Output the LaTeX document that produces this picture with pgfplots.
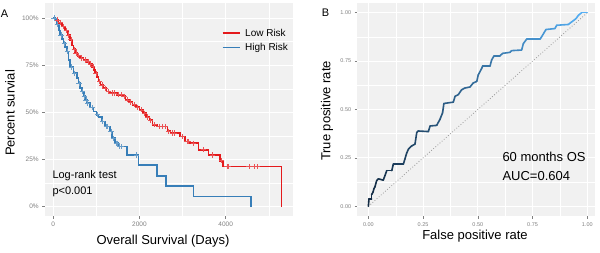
\documentclass[border=0pt]{standalone}
\usepackage{pgfplots}
\pgfplotsset{compat=1.18}
\usepackage{fontspec}
\setmainfont{Liberation Sans}
\definecolor{lowred}{HTML}{E41A1C}
\definecolor{highblue}{HTML}{377EB8}
\definecolor{panelbg}{HTML}{F1F1F1}
\definecolor{tickgray}{HTML}{808080}
\pgfplotsset{
  colormap={roc}{rgb255=(19,43,67) rgb255=(86,177,247)},
  ggstyle/.style={
    scale only axis, anchor=south west,
    axis background/.style={fill=panelbg},
    axis line style={draw=none},
    tick pos=left, tick align=outside,
    major tick length=2.75pt, minor tick length=0pt,
    tick style={tickgray, line width=0.5pt},
    grid=both,
    major grid style={white, line width=0.9pt},
    minor grid style={white, line width=0.45pt},
    ticklabel style={font=\fontsize{6.5}{7}\selectfont, text=tickgray},
    /pgf/number format/assume math mode=true,
    /pgf/number format/1000 sep={},
  }
}
\begin{document}
\begin{tikzpicture}[x=1pt,y=1pt]
\useasboundingbox (0,0) rectangle (600,253);
% ---------------- Panel A ----------------
\begin{axis}[ggstyle, at={(45pt,37pt)}, width=248pt, height=213pt,
  xmin=-190, xmax=5560, ymin=-0.05, ymax=1.08,
  xtick={0,2000,4000}, minor xtick={1000,3000,5000},
  ytick={0,0.25,0.5,0.75,1}, minor ytick={0.125,0.375,0.625,0.875},
  yticklabels={0\%,25\%,50\%,75\%,100\%}]
\addplot[const plot, lowred, line width=1.6pt] coordinates {
(0,1.0) (50,0.99) (124,0.975) (200,0.955) (278,0.935) (340,0.91) (394,0.885)
(432,0.855) (470,0.835) (510,0.815) (560,0.80) (625,0.788) (700,0.778) (780,0.768)
(840,0.755) (896,0.742) (940,0.725) (973,0.708) (1010,0.686) (1050,0.664) (1100,0.645)
(1166,0.628) (1240,0.61) (1320,0.602) (1475,0.593) (1620,0.585) (1680,0.566) (1760,0.555)
(1840,0.540) (1920,0.527) (2000,0.513) (2080,0.495) (2150,0.475) (2230,0.458) (2300,0.434)
(2400,0.425) (2650,0.400) (2720,0.390) (2940,0.372) (3060,0.345) (3175,0.336) (3370,0.301)
(3600,0.274) (3870,0.243) (3932,0.212) (5297,0)};
\addplot[const plot, highblue, line width=1.6pt] coordinates {
(0,1.0) (46,0.99) (86,0.965) (130,0.935) (162,0.91) (200,0.89) (239,0.867) (280,0.845)
(317,0.823) (355,0.779) (394,0.74) (471,0.708) (549,0.681) (587,0.655) (626,0.628)
(664,0.61) (710,0.585) (742,0.566) (780,0.549) (850,0.525) (934,0.504) (1000,0.487)
(1050,0.475) (1128,0.451) (1205,0.425) (1321,0.398) (1360,0.363) (1437,0.336) (1514,0.318)
(1707,0.274) (1977,0.221) (2403,0.163) (2619,0.11) (3252,0.053) (4589,0)};
% censoring marks
\addplot[only marks, mark=+, mark size=2.6pt, lowred!75!white, mark options={line width=0.7pt}] coordinates {
(30,1.0) (90,0.99) (160,0.975) (240,0.955) (300,0.935) (360,0.91) (410,0.885) (490,0.835)
(530,0.815) (590,0.80) (660,0.788) (740,0.778) (810,0.768) (870,0.755) (920,0.742) (990,0.708)
(1080,0.664) (1130,0.645) (1200,0.628) (1280,0.61) (1360,0.602) (1420,0.602) (1520,0.593)
(1580,0.593) (1650,0.585) (1720,0.566) (1800,0.555) (1880,0.540) (1960,0.527) (2040,0.513)
(2120,0.495) (2190,0.475) (2260,0.458) (2340,0.434) (2450,0.425) (2520,0.425) (2600,0.425)
(2680,0.40) (2760,0.39) (2800,0.39) (2990,0.372) (3100,0.345) (3140,0.345) (3250,0.336)
(3480,0.301) (3700,0.274) (3900,0.243) (4030,0.212) (4060,0.212) (4539,0.212) (4654,0.212) (4724,0.212)};
\addplot[only marks, mark=+, mark size=2.6pt, highblue!75!white, mark options={line width=0.7pt}] coordinates {
(20,1.0) (100,0.965) (180,0.91) (260,0.867) (330,0.823) (420,0.74) (500,0.708) (600,0.655)
(680,0.61) (720,0.585) (760,0.566) (800,0.549) (900,0.525) (1020,0.487) (1150,0.451)
(1230,0.425) (1260,0.425) (1340,0.398) (1400,0.363) (1460,0.336) (1490,0.336) (1540,0.318)
(1580,0.318) (1930,0.274)};
% legend
\draw[lowred, line width=1.6pt] (axis cs:3930,0.921) -- (axis cs:4331,0.921);
\node[anchor=west, inner sep=0pt, font=\fontsize{10}{12}\selectfont] at (axis cs:4447,0.921) {Low Risk};
\draw[highblue, line width=1.6pt] (axis cs:3930,0.843) -- (axis cs:4331,0.843);
\node[anchor=west, inner sep=0pt, font=\fontsize{10}{12}\selectfont] at (axis cs:4447,0.843) {High Risk};
\end{axis}
% ---------------- Panel B ----------------
\begin{axis}[ggstyle, at={(357.4pt,37pt)}, width=237.6pt, height=213pt,
  xmin=-0.05, xmax=1.035, ymin=-0.05, ymax=1.05,
  xtick={0,0.25,0.5,0.75,1}, minor xtick={0.125,0.375,0.625,0.875},
  ytick={0,0.25,0.5,0.75,1}, minor ytick={0.125,0.375,0.625,0.875},
  xticklabels={0.00,0.25,0.50,0.75,1.00},
  yticklabels={0.00,0.25,0.50,0.75,1.00},
  ticklabel style={font=\fontsize{5.5}{6}\selectfont}]
\addplot[gray!80, dotted, line width=0.8pt] coordinates {(0,0) (1,1)};
\addplot[mesh, colormap name=roc, point meta=x, line width=1.6pt, line join=round, line cap=round] coordinates {
(0,0) (0.003,0.039) (0.015,0.039) (0.015,0.06) (0.022,0.075) (0.025,0.09) (0.03,0.10)
(0.038,0.133) (0.046,0.142) (0.068,0.135) (0.076,0.159) (0.084,0.184) (0.107,0.184)
(0.114,0.218) (0.16,0.218) (0.167,0.244) (0.175,0.275) (0.183,0.295) (0.198,0.312)
(0.213,0.321) (0.221,0.381) (0.228,0.389) (0.274,0.386) (0.282,0.415) (0.312,0.418)
(0.327,0.449) (0.339,0.483) (0.345,0.531) (0.388,0.538) (0.396,0.568) (0.411,0.577)
(0.426,0.602) (0.441,0.611) (0.464,0.616) (0.479,0.637) (0.495,0.645) (0.502,0.679)
(0.518,0.713) (0.522,0.725) (0.556,0.725) (0.563,0.756) (0.574,0.777) (0.601,0.777)
(0.613,0.79) (0.647,0.795) (0.654,0.804) (0.70,0.807) (0.708,0.841) (0.723,0.863)
(0.784,0.863) (0.791,0.875) (0.811,0.913) (0.852,0.918) (0.86,0.935) (0.913,0.939)
(0.928,0.952) (0.948,0.969) (0.959,0.986) (0.974,1.0) (1.0,1.0)};
\end{axis}
% ---------------- texts ----------------
\node[font=\fontsize{11}{13}\selectfont] at (4.5,239) {A};
\node[font=\fontsize{11}{13}\selectfont] at (325.5,240.5) {B};
\node[rotate=90, font=\fontsize{13}{15}\selectfont] at (10,140) {Percent survial};
\node[font=\fontsize{13}{15}\selectfont] at (163,12) {Overall Survival (Days)};
\node[rotate=90, font=\fontsize{13}{15}\selectfont] at (327,142) {True positive rate};
\node[font=\fontsize{13}{15}\selectfont] at (475,17) {False positive rate};
\node[anchor=west, inner sep=0pt, font=\fontsize{11}{13}\selectfont] at (52.3,77.3) {Log-rank test};
\node[anchor=west, inner sep=0pt, font=\fontsize{11}{13}\selectfont] at (52.3,60.7) {p<0.001};
\node[anchor=west, inner sep=0pt, font=\fontsize{13}{15}\selectfont] at (502.3,96.3) {60 months OS};
\node[anchor=west, inner sep=0pt, font=\fontsize{13}{15}\selectfont] at (502.3,76.7) {AUC=0.604};
\end{tikzpicture}
\end{document}
